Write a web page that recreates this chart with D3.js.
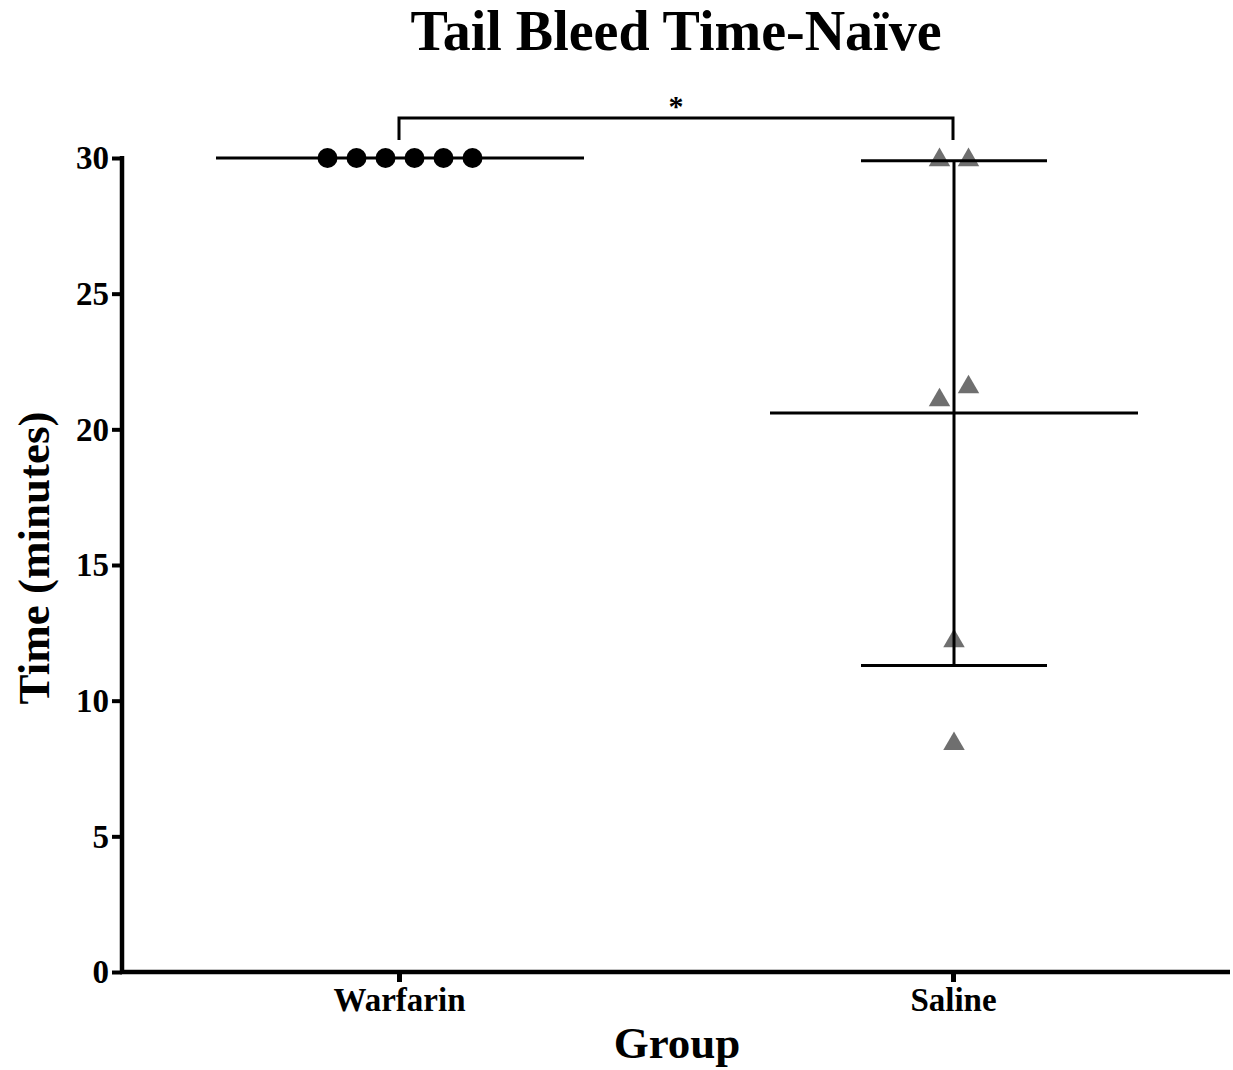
<!DOCTYPE html>
<html>
<head>
<meta charset="utf-8">
<script src="https://cdn.jsdelivr.net/npm/d3@7"></script>
<style>
  html, body { margin: 0; padding: 0; background: #fff; }
  svg { display: block; font-family: "Liberation Serif", "Times New Roman", serif; }
</style>
</head>
<body>
<svg id="chart" width="1233" height="1070"></svg>
<script>
// Tail bleed times (minutes) per animal
const groups = ["Warfarin", "Saline"];
const warfarinTimes = [30, 30, 30, 30, 30, 30];
const salineTimes = [30, 30, 21.15, 21.63, 12.27, 8.48];
const groupMean = [30, 20.6];
const groupSD = [0, 9.3];
const yTicks = [0, 5, 10, 15, 20, 25, 30];
const titleText = "Tail Bleed Time-Naïve";
const yTitle = "Time (minutes)";
const xTitle = "Group";
const sigLabel = "*";

const svg = d3.select("#chart");
const plotLeft = 122, plotRight = 1230, plotTop = 158, plotBottom = 972;

const x = d3.scalePoint().domain(groups).range([plotLeft, plotRight]).padding(0.5);
const y = d3.scaleLinear().domain([0, 30]).range([plotBottom, plotTop]);

const series = [
  { group: "Warfarin", values: warfarinTimes, shape: "circle", color: "#000" },
  { group: "Saline", values: salineTimes, shape: "triangle", color: "#6f6f6f" }
];

// Scatter spread: points whose markers would overlap vertically are fanned out sideways,
// keeping their original order from left to right
const spread = 29, markerSize = 20;
function scatterPositions(values) {
  const order = values.map((v, i) => i).sort((a, b) => values[b] - values[a]);
  const clusters = [];
  order.forEach(i => {
    const last = clusters[clusters.length - 1];
    if (last && Math.abs(y(values[last[0]]) - y(values[i])) < markerSize) last.push(i);
    else clusters.push([i]);
  });
  const dx = new Array(values.length).fill(0);
  clusters.forEach(c => {
    c.sort((a, b) => a - b);
    c.forEach((idx, k) => { dx[idx] = (k - (c.length - 1) / 2) * spread; });
  });
  return dx;
}

// Points
series.forEach(s => {
  const dx = scatterPositions(s.values);
  const cx = x(s.group) + 1;
  const g = svg.append("g");
  if (s.shape === "circle") {
    g.selectAll("circle").data(s.values).join("circle")
      .attr("cx", (d, i) => cx + dx[i])
      .attr("cy", d => y(d))
      .attr("r", 10)
      .attr("fill", s.color);
  } else {
    const tri = d3.symbol().type(d3.symbolTriangle).size(200);
    g.selectAll("path").data(s.values).join("path")
      .attr("d", tri)
      .attr("transform", (d, i) => `translate(${cx + dx[i]},${y(d) + 2})`)
      .attr("fill", s.color);
  }
});

// Mean lines and SD bars
groups.forEach((gName, i) => {
  const cx = x(gName) + 1;
  const m = groupMean[i], sd = groupSD[i];
  const g = svg.append("g").attr("stroke", "#000").attr("stroke-width", 3).attr("fill", "none");
  g.append("line").attr("x1", cx - 184).attr("x2", cx + 184).attr("y1", y(m)).attr("y2", y(m));
  if (sd > 0) {
    g.append("line").attr("x1", cx).attr("x2", cx).attr("y1", y(m + sd)).attr("y2", y(m - sd));
    [m + sd, m - sd].forEach(v => {
      g.append("line").attr("x1", cx - 93).attr("x2", cx + 93).attr("y1", y(v)).attr("y2", y(v));
    });
  }
});

// Y axis
const yAxis = d3.axisLeft(y).tickValues(yTicks).tickSize(10).tickSizeOuter(0).tickPadding(3);
const gy = svg.append("g").attr("transform", `translate(${plotLeft},0)`).call(yAxis);
gy.select(".domain").remove();
gy.selectAll(".tick line").attr("stroke", "#000").attr("stroke-width", 4);
gy.selectAll(".tick text")
  .attr("fill", "#000")
  .attr("font-family", "Liberation Serif, Times New Roman, serif")
  .attr("font-weight", "bold").attr("font-size", 33)
  .attr("dy", "0.33em");
svg.append("line").attr("x1", plotLeft).attr("x2", plotLeft).attr("y1", plotTop - 2).attr("y2", plotBottom + 2)
  .attr("stroke", "#000").attr("stroke-width", 4.5);

// X axis
const xAxis = d3.axisBottom(x).tickSize(10).tickSizeOuter(0).tickPadding(6);
const gx = svg.append("g").attr("transform", `translate(0,${plotBottom})`).call(xAxis);
gx.select(".domain").remove();
gx.selectAll(".tick line").attr("stroke", "#000").attr("stroke-width", 5);
gx.selectAll(".tick text")
  .attr("fill", "#000")
  .attr("font-family", "Liberation Serif, Times New Roman, serif")
  .attr("font-weight", "bold").attr("font-size", 33);
svg.append("line").attr("x1", plotLeft - 2).attr("x2", plotRight).attr("y1", plotBottom).attr("y2", plotBottom)
  .attr("stroke", "#000").attr("stroke-width", 4.5);

// Significance bracket
const bY = 118, bDrop = 22;
const x1 = x(groups[0]), x2 = x(groups[1]);
svg.append("path")
  .attr("d", `M${x1},${bY + bDrop}V${bY}H${x2}V${bY + bDrop}`)
  .attr("fill", "none").attr("stroke", "#000").attr("stroke-width", 3);
svg.append("text").attr("x", (x1 + x2) / 2).attr("y", bY - 2)
  .attr("text-anchor", "middle").attr("font-size", 30).attr("font-weight", "bold")
  .text(sigLabel);

// Titles
svg.append("text").attr("x", 676).attr("y", 50).attr("text-anchor", "middle")
  .attr("font-size", 56).attr("font-weight", "bold").text(titleText);
svg.append("text").attr("transform", "translate(49,558) rotate(-90)").attr("text-anchor", "middle")
  .attr("font-size", 45).attr("font-weight", "bold").text(yTitle);
svg.append("text").attr("x", 677).attr("y", 1058).attr("text-anchor", "middle")
  .attr("font-size", 45).attr("font-weight", "bold").text(xTitle);
</script>
</body>
</html>
